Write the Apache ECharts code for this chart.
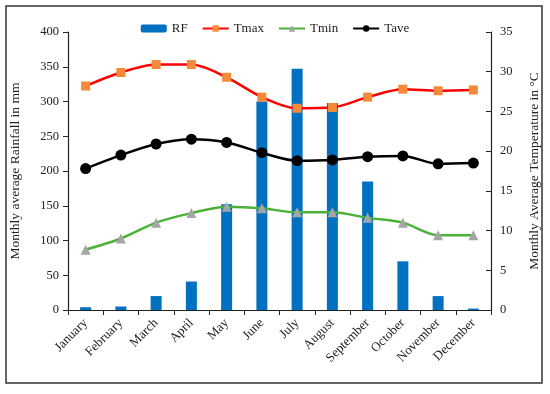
<!DOCTYPE html>
<html><head><meta charset="utf-8">
<script src="https://cdn.jsdelivr.net/npm/echarts@6/dist/echarts.min.js"></script>
<style>html,body{margin:0;padding:0;background:#fff}#c{width:550px;height:394px}</style>
</head><body><div id="c"></div>
<script>
const months = ['January','February','March','April','May','June','July','August','September','October','November','December'];
const rf   = [4, 5, 20, 41, 152, 300, 347, 298, 185, 70, 20, 2];
const tmax = [28.2, 29.9, 30.9, 30.9, 29.3, 26.8, 25.4, 25.5, 26.8, 27.8, 27.6, 27.7];
const tmin = [7.6, 9.0, 11.0, 12.2, 13.0, 12.8, 12.3, 12.3, 11.6, 11.0, 9.4, 9.4];
const tave = [17.8, 19.5, 20.9, 21.5, 21.1, 19.8, 18.8, 18.9, 19.3, 19.4, 18.4, 18.5];
const FONT = '"Liberation Serif","DejaVu Serif",serif';
const chart = echarts.init(document.getElementById('c'));
chart.setOption({
  animation:false,
  textStyle:{fontFamily:FONT},
  graphic:[{type:'rect',shape:{x:6,y:6,width:536,height:377},style:{fill:'none',stroke:'#333',lineWidth:1.5}}],
  legend:{top:17,left:'center',itemGap:14,itemWidth:26,itemHeight:8,
    textStyle:{fontFamily:FONT,fontSize:13,color:'#222'},
    data:['RF','Tmax','Tmin','Tave']},
  grid:{left:67,right:59,top:32,bottom:84},
  xAxis:{type:'category',data:months,boundaryGap:true,
    axisLine:{lineStyle:{color:'#222',width:1.2}},
    axisTick:{show:true,inside:false,length:5,alignWithLabel:false,lineStyle:{color:'#222'}},
    axisLabel:{rotate:45,interval:0,fontFamily:FONT,fontSize:13,color:'#222',margin:11}},
  yAxis:[
    {type:'value',min:0,max:400,interval:50,position:'left',
     name:'Monthly average Rainfall in mm',nameLocation:'middle',nameGap:46,
     nameTextStyle:{fontFamily:FONT,fontSize:13.5,color:'#222'},
     axisLine:{show:true,lineStyle:{color:'#222',width:1.2}},
     axisTick:{show:true,length:5,lineStyle:{color:'#222'}},
     splitLine:{show:false},
     axisLabel:{fontFamily:FONT,fontSize:12.5,color:'#222',margin:9}},
    {type:'value',min:0,max:35,interval:5,position:'right',
     name:'Monthly Average Temperature in °C',nameLocation:'middle',nameGap:36,nameRotate:90,
     nameTextStyle:{fontFamily:FONT,fontSize:13.5,color:'#222'},
     axisLine:{show:true,lineStyle:{color:'#222',width:1.2}},
     axisTick:{show:true,inside:true,length:5,lineStyle:{color:'#222'}},
     splitLine:{show:false},
     axisLabel:{fontFamily:FONT,fontSize:12.5,color:'#222',margin:9}}
  ],
  series:[
    {name:'RF',type:'bar',yAxisIndex:0,data:rf,barWidth:11,itemStyle:{color:'#0070C0'}},
    {name:'Tmax',type:'line',yAxisIndex:1,data:tmax,smooth:0.3,symbol:'rect',symbolSize:9,
     lineStyle:{color:'#FF0000',width:2.5},itemStyle:{color:'#F58A3A',borderWidth:0}},
    {name:'Tmin',type:'line',yAxisIndex:1,data:tmin,smooth:0.3,symbol:'triangle',symbolSize:10,
     lineStyle:{color:'#4CB13A',width:2.5},itemStyle:{color:'#A5A5A5',borderWidth:0}},
    {name:'Tave',type:'line',yAxisIndex:1,data:tave,smooth:0.3,symbol:'circle',symbolSize:11,
     lineStyle:{color:'#000000',width:2.5},itemStyle:{color:'#000000'}}
  ]
});
</script></body></html>
